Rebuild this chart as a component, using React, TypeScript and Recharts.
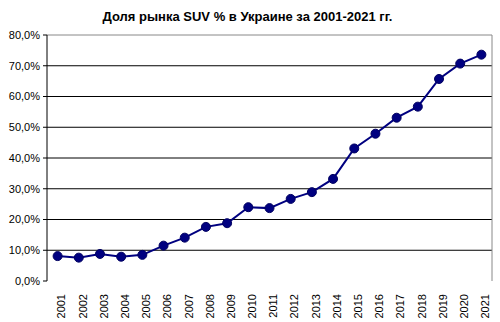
import { LineChart, Line, XAxis, YAxis, CartesianGrid, ReferenceLine } from 'recharts';

const YEARS = [
  2001, 2002, 2003, 2004, 2005, 2006, 2007, 2008, 2009, 2010, 2011,
  2012, 2013, 2014, 2015, 2016, 2017, 2018, 2019, 2020, 2021,
];
const SUV_SHARE = [
  8.1, 7.6, 8.8, 7.9, 8.5, 11.5, 14.1, 17.6, 18.8, 24.0, 23.7,
  26.7, 28.9, 33.2, 43.1, 47.9, 53.1, 56.7, 65.7, 70.7, 73.6,
];
const Y_TICKS = [0, 10, 20, 30, 40, 50, 60, 70, 80];
const GRID_VALUES = [10, 20, 30, 40, 50, 60, 70];

const NAVY = '#000080';
const FONT = '"Liberation Sans", Arial, sans-serif';

// tick marks sit between categories, like Excel
const BOUNDARIES = [YEARS[0] - 0.5, ...YEARS.map((y) => y + 0.5)];

const data = YEARS.map((year, i) => ({ year, share: SUV_SHARE[i] }));

const fmtPct = (v: number) => `${v.toFixed(1).replace('.', ',')}%`;

export default function App() {
  return (
    <div style={{ position: 'absolute', left: 0, top: 0, width: 500, height: 322, background: '#fff', fontFamily: FONT }}>
      <div
        style={{
          position: 'absolute',
          left: 0,
          top: 9,
          width: 495,
          textAlign: 'center',
          fontWeight: 'bold',
          fontSize: 13,
          color: '#000',
        }}
      >
        Доля рынка SUV % в Украине за 2001-2021 гг.
      </div>
      <LineChart width={500} height={322} data={data} margin={{ top: 35, right: 0, left: 0, bottom: 0 }}>
        <CartesianGrid horizontal vertical={false} horizontalValues={GRID_VALUES} stroke="#000" strokeWidth={1} />
        <ReferenceLine y={80} stroke="#888" strokeWidth={1} />
        <XAxis
          xAxisId="ticks"
          dataKey="year"
          type="number"
          domain={[YEARS[0] - 0.5, YEARS[YEARS.length - 1] + 0.5]}
          ticks={BOUNDARIES}
          interval={0}
          height={0}
          tick={false}
          tickSize={5}
          tickLine={{ stroke: '#000' }}
          axisLine={{ stroke: '#000' }}
        />
        <XAxis
          dataKey="year"
          type="number"
          domain={[YEARS[0] - 0.5, YEARS[YEARS.length - 1] + 0.5]}
          ticks={YEARS}
          interval={0}
          height={41}
          axisLine={false}
          tickLine={false}
          tickMargin={7}
          angle={-90}
          textAnchor="end"
          tick={{ fontSize: 11, fill: '#000', fontFamily: FONT, dy: 0 }}
        />
        <YAxis
          domain={[0, 80]}
          ticks={Y_TICKS}
          interval={0}
          width={47}
          tickFormatter={fmtPct}
          tickSize={4}
          tickMargin={3}
          tickLine={{ stroke: '#000' }}
          axisLine={{ stroke: '#000' }}
          tick={{ fontSize: 11, fill: '#000', fontFamily: FONT }}
        />
        <YAxis yAxisId="right" orientation="right" width={8} tick={false} tickLine={false} axisLine={{ stroke: '#888' }} />
        <Line
          dataKey="share"
          stroke={NAVY}
          strokeWidth={2}
          dot={{ r: 4.5, fill: NAVY, stroke: '#000060', strokeWidth: 1 }}
          isAnimationActive={false}
        />
      </LineChart>
    </div>
  );
}
